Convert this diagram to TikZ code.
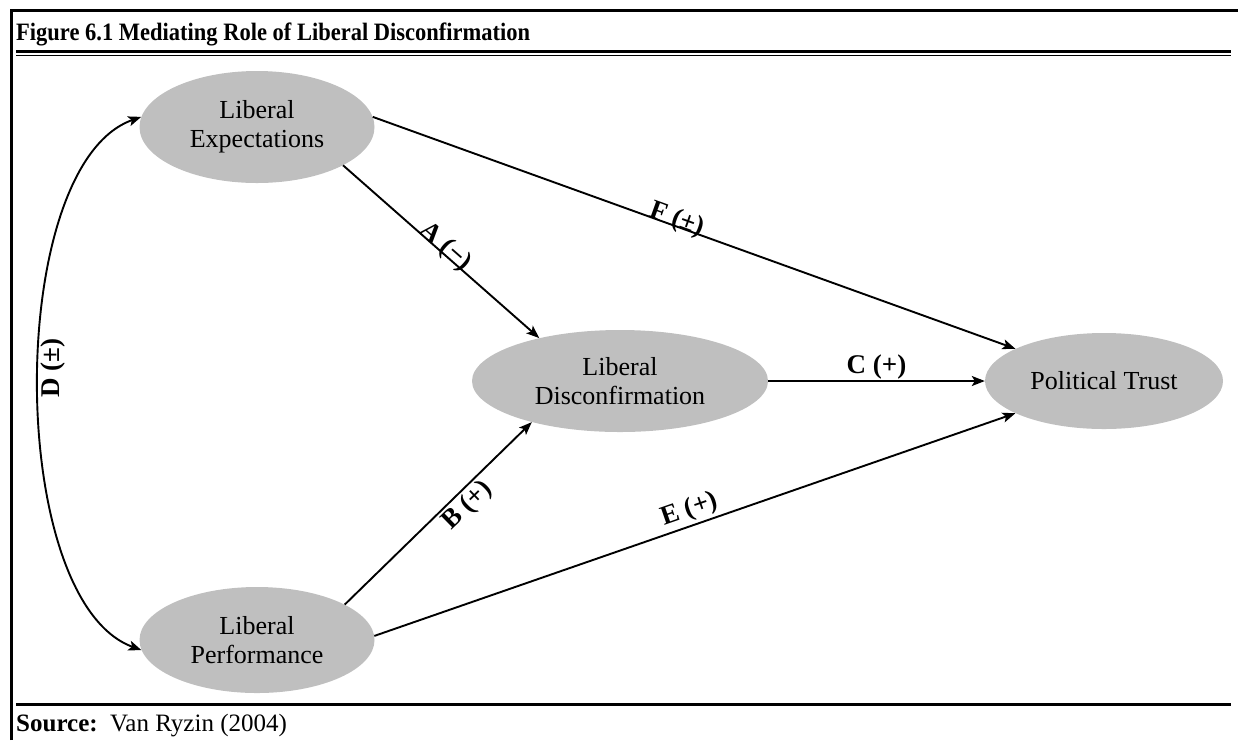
\documentclass[tikz,border=0pt]{standalone}
\usepackage{fontspec}
\setmainfont{Liberation Serif}
\newfontfamily\condfont[FakeStretch=0.9]{Liberation Serif}
\usetikzlibrary{shapes.geometric,arrows.meta}
\definecolor{ellgray}{RGB}{191,191,191}
\begin{document}
\begin{tikzpicture}[x=1pt,y=-1pt,
  ell/.style={ellipse, fill=ellgray, draw=none, inner sep=0pt, align=center, font=\fontsize{26}{29}\selectfont},
  conn/.style={line width=1.9pt, -{Stealth[length=13pt,width=10pt,inset=3pt]}},
  biconn/.style={line width=1.9pt, {Stealth[length=13pt,width=10pt,inset=3pt]}-{Stealth[length=13pt,width=10pt,inset=3pt]}},
  lab/.style={font=\fontsize{27}{30}\selectfont\bfseries, inner sep=2pt},
  rulethick/.style={line width=3pt},
  rulethin/.style={line width=1.5pt}]
\useasboundingbox (0,0) rectangle (1238,740);
% frame
\draw[rulethick] (11,740) -- (11,10) -- (1238,10);
\draw[rulethick] (16,51) -- (1231,51);
\draw[rulethin] (16,55.5) -- (1231,55.5);
\draw[rulethick] (16,704) -- (1231,704);
% title and source
\node[anchor=base west, inner sep=0pt, font=\condfont\fontsize{25}{30}\selectfont\bfseries] (title) at (16,40) {Figure 6.1 Mediating Role of Liberal Disconfirmation};
\node[anchor=base west, inner sep=0pt, font=\fontsize{25}{28}\selectfont] (src) at (16,731) {\textbf{Source:}\ \ Van Ryzin (2004)};
% nodes
\node[ell, minimum width=235pt, minimum height=112pt] (LE) at (257,127) {Liberal\\Expectations};
\node[ell, minimum width=235pt, minimum height=106pt] (LP) at (257,640) {Liberal\\Performance};
\node[ell, minimum width=296pt, minimum height=102pt] (LD) at (620,381) {Liberal\\Disconfirmation};
\node[ell, minimum width=238pt, minimum height=96pt] (PT) at (1104,381) {Political Trust};
% connectors
\draw[conn] (LE.-24) -- node[lab, sloped, anchor=base, pos=0.5] {A (\textminus)} (LD.152);
\draw[conn] (LP.22) -- node[lab, sloped, below, pos=0.6] {B (+)} (LD.-155);
\draw[conn] (LD.east) -- node[lab, above, inner sep=1pt] {C (+)} (PT.west);
\draw[conn] (LE.5) -- node[lab, sloped, anchor=base, pos=0.47] {F (±)} (PT.160);
\draw[conn] (LP.2) -- node[lab, sloped, above, pos=0.5] {E (+)} (PT.-160);
\draw[biconn] (LP.185) .. controls (5,600) and (5,165) .. node[lab, pos=0.52, rotate=90, anchor=north, inner sep=1pt] {D (±)} (LE.175);
\end{tikzpicture}
\end{document}
